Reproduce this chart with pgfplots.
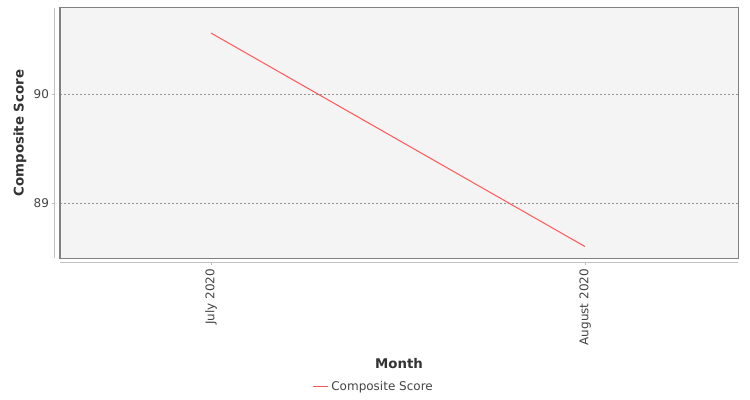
\documentclass[border=0pt]{standalone}
\usepackage{pgfplots}
\pgfplotsset{compat=1.18}
\usepackage{fontspec}
\setmainfont{DejaVu Sans}
\definecolor{bgc}{HTML}{F4F4F4}
\definecolor{framec}{HTML}{808080}
\definecolor{axc}{HTML}{C0C0C0}
\definecolor{linec}{HTML}{FF5555}
\definecolor{txt}{HTML}{444444}
\definecolor{lab}{HTML}{333333}
\begin{document}
\begin{tikzpicture}
\path[use as bounding box] (0,0) rectangle (562.5pt,300pt);
\begin{axis}[
  at={(45pt,106.5pt)}, anchor=south west,
  scale only axis, width=508.5pt, height=187.5pt,
  xmin=-0.404, xmax=1.409, ymin=88.495, ymax=90.79,
  axis background/.style={fill=bgc},
  axis line style={draw=framec, line width=0.75pt},
  xtick={0,1}, xticklabels={July 2020, August 2020},
  ytick={89,90},
  xtick pos=bottom, ytick pos=left,
  /pgf/number format/assume math mode=true,
  tick align=outside, major tick length=2.5pt,
  tick style={draw=axc, line width=0.6pt},
  every major y tick/.append style={xshift=-3.75pt},
  every major x tick/.append style={yshift=-3pt},
  xticklabel style={rotate=90, anchor=east, font=\fontsize{9}{10}\selectfont, text=txt, xshift=-2.25pt},
  yticklabel style={anchor=east, font=\fontsize{9}{10}\selectfont, text=txt, xshift=-2.25pt},
  ymajorgrids, grid style={dash pattern=on 1.5pt off 1.5pt, draw=gray!85, line width=0.6pt},
  xlabel={Month}, ylabel={Composite Score},
  xlabel style={at={(axis description cs:0.5,0)}, anchor=center, yshift=-79.5pt, font=\fontsize{10}{12}\selectfont\bfseries, text=lab},
  ylabel style={at={(axis description cs:0,0.5)}, anchor=center, yshift=30pt, font=\fontsize{10}{12}\selectfont\bfseries, text=lab},
  legend style={at={(axis description cs:0.463,-0.516)}, anchor=center, draw=none, fill=none, font=\fontsize{9}{10}\selectfont, inner sep=0pt},
  legend image code/.code={\draw[draw=linec, line width=1pt] (0pt,0.4pt) -- (11.25pt,0.4pt);},
  clip=false,
]
\draw[axc, line width=0.75pt] ([xshift=-3.75pt]rel axis cs:0,0) -- ([xshift=-3.75pt]rel axis cs:0,1);
\draw[axc, line width=0.75pt] ([yshift=-3pt]rel axis cs:0,0) -- ([yshift=-3pt]rel axis cs:1,0);
\addplot[draw=linec, line width=0.75pt] coordinates {(0,90.56) (1,88.60)};
\addlegendentry{\textcolor{txt}{Composite Score}}
\end{axis}
\end{tikzpicture}
\end{document}
